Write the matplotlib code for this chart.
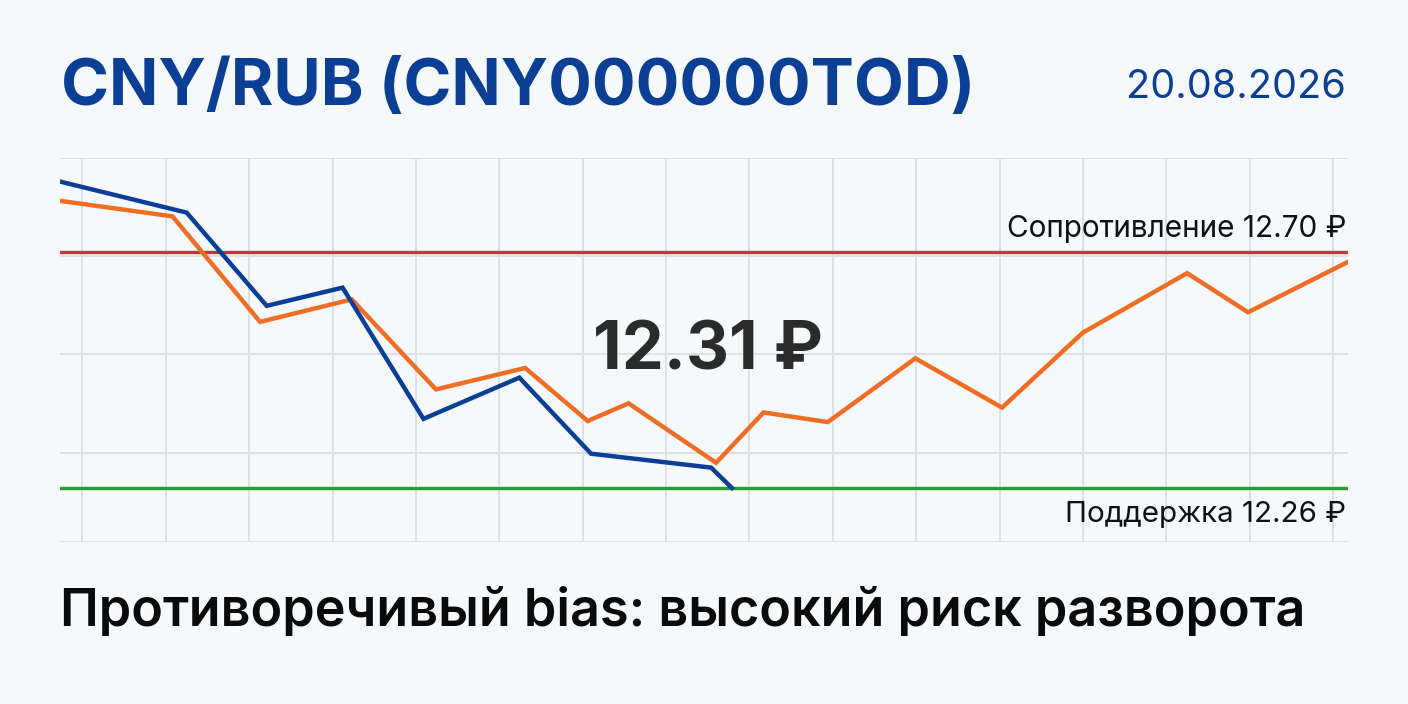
import matplotlib.pyplot as plt

plt.rcParams['font.family'] = ['Inter', 'DejaVu Sans']

# данные
t_spot = [-0.27, 1.08, 2.13, 3.23, 4.24, 5.31, 6.06, 6.55, 7.60, 8.17, 8.94,
          9.99, 11.03, 12.00, 13.25, 13.98, 15.18]
spot = [12.796, 12.767, 12.570, 12.612, 12.444, 12.484, 12.385, 12.418, 12.307,
        12.401, 12.383, 12.502, 12.410, 12.550, 12.661, 12.588, 12.682]

t_fut = [-0.27, 1.25, 2.21, 3.12, 4.09, 5.24, 6.10, 7.54, 7.79]
fut = [12.832, 12.774, 12.600, 12.634, 12.389, 12.466, 12.324, 12.298, 12.260]

resistance = 12.70
support = 12.26
last_price = 12.31
y_grid = [12.693, 12.511, 12.326]

bg = "#f5f9fc"
blue = "#0b3f95"
orange = "#f06e24"

fig = plt.figure(figsize=(14.08, 7.04), dpi=100, facecolor=bg)
ax = fig.add_axes([0.0426, 0.230, 0.9148, 0.5456])
ax.set_facecolor(bg)

ax.set_xlim(-0.27, 15.18)
ax.set_ylim(12.159, 12.876)

for x in range(16):
    ax.axvline(x, color="#dde0e4", lw=1.4, zorder=0)
for y in y_grid + [12.876, 12.159]:
    ax.axhline(y, color="#dde0e4", lw=1.4, zorder=0)

ax.axhline(resistance, color="#d22f3a", lw=2.4, zorder=2)
ax.axhline(support, color="#2a9a2e", lw=2.4, zorder=2)

ax.plot(t_spot, spot, color=orange, lw=3.2, zorder=3, solid_joinstyle="miter")
ax.plot(t_fut, fut, color=blue, lw=3.2, zorder=4, solid_joinstyle="miter")

for s in ax.spines.values():
    s.set_visible(False)
ax.set_xticks([])
ax.set_yticks([])

ax.text(0.9985, resistance + 0.018, f"Сопротивление {resistance:.2f} ₽",
        transform=ax.get_yaxis_transform(), ha="right", va="bottom",
        fontsize=21.4, color="#111111")
ax.text(0.9985, support - 0.025, f"Поддержка {support:.2f} ₽",
        transform=ax.get_yaxis_transform(), ha="right", va="top",
        fontsize=21.3, color="#111111")

ax.text(0.503, 0.495, f"{last_price:.2f} ₽", transform=ax.transAxes,
        ha="center", va="center", fontsize=48, fontweight="bold",
        color="#2b2b2b", zorder=5)

fig.text(0.0436, 0.875, "CNY/RUB (CNY000000TOD)", ha="left", va="center",
         fontsize=46.7, fontweight="bold", color=blue)
fig.text(0.956, 0.875, "20.08.2026", ha="right", va="center",
         fontsize=28.6, color=blue)
fig.text(0.0426, 0.131, "Противоречивый bias: высокий риск разворота",
         ha="left", va="center", fontsize=37.5, fontweight=600,
         color="#0a0a0a")

fig.savefig("out.png", dpi=100, facecolor=bg)
